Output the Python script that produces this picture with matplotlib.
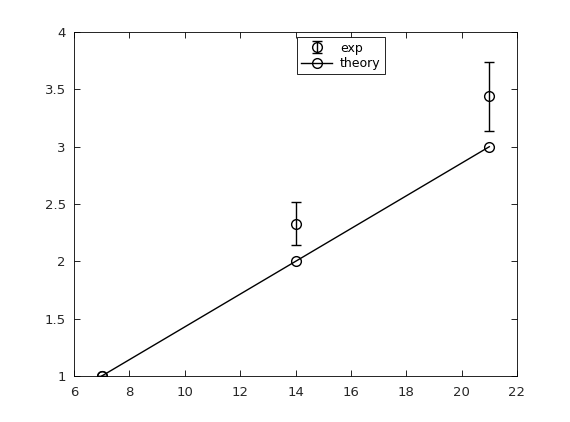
import matplotlib
matplotlib.use("Agg")
import matplotlib.pyplot as plt

# datos
x = [7, 14, 21]
exp_y = [1.0, 2.33, 3.44]
exp_err = [0.0, 0.19, 0.30]
theory_y = [1, 2, 3]

plt.rcParams['font.family'] = 'DejaVu Sans'
plt.rcParams['font.size'] = 9

fig = plt.figure(figsize=(5.7, 4.22), dpi=100)
ax = fig.add_axes([0.13, 0.109, 0.777, 0.815])

h_exp = ax.errorbar(x, exp_y, yerr=exp_err, fmt='o', color='k', mfc='none',
                    ms=7, mew=1.0, elinewidth=1.0, capsize=3.5, label='exp')
h_th, = ax.plot(x, theory_y, '-o', color='k', mfc='none', ms=7, mew=1.0, lw=1.0,
                label='theory')

ax.set_xlim(6, 22)
ax.set_ylim(1, 4)
ax.set_xticks(range(6, 23, 2))
ax.set_yticks([1, 1.5, 2, 2.5, 3, 3.5, 4])
ax.set_yticklabels(['1', '1.5', '2', '2.5', '3', '3.5', '4'])
ax.tick_params(direction='in', top=True, right=True, length=4, width=0.6,
               labelsize=9.5, colors='k', labelcolor='#262626')
ax.tick_params(axis='x', pad=7)
ax.tick_params(axis='y', pad=6)
for s in ax.spines.values():
    s.set_linewidth(0.6)

leg = ax.legend([h_exp, h_th], ['exp', 'theory'], loc='upper center',
                bbox_to_anchor=(0.602, 0.985), borderaxespad=0, fancybox=False,
                edgecolor='k', framealpha=1, fontsize=9, handlelength=2.5,
                borderpad=0.35, labelspacing=0.2, handletextpad=0.6)
leg.get_frame().set_linewidth(0.6)

fig.savefig('out.png', dpi=100)
